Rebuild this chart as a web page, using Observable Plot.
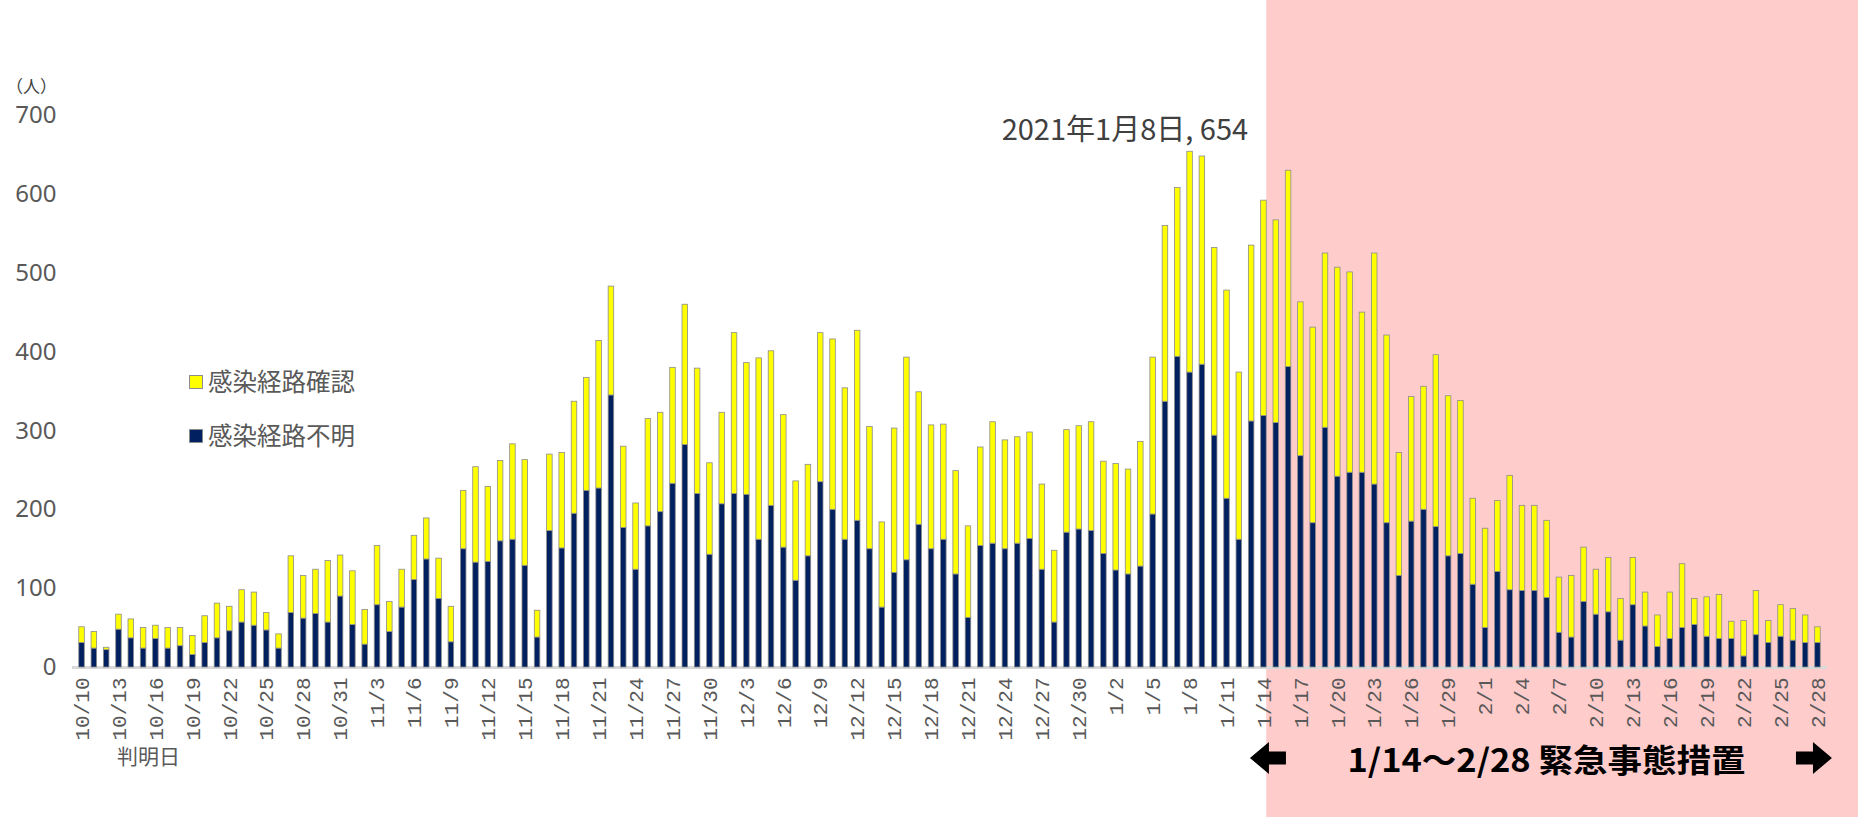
<!DOCTYPE html>
<html>
<head>
<meta charset="utf-8">
<script src="https://cdn.jsdelivr.net/npm/d3@7"></script>
<script src="https://cdn.jsdelivr.net/npm/@observablehq/plot@0.6"></script>
<style>
html, body { margin: 0; padding: 0; background: #fff; }
#wrap { position: relative; width: 1858px; height: 817px; overflow: hidden; font-family: "Noto Sans CJK JP", "Noto Sans", sans-serif; }
#wrap svg { position: absolute; left: 0; top: 0; }
.lbl { position: absolute; white-space: nowrap; line-height: 1; }
.sw { position: absolute; width: 14px; height: 14px; box-sizing: border-box; border: 1px solid #8c8c8c; }
</style>
</head>
<body>
<div id="wrap"></div>
<script>
// ---- Data ----
const dates = [
  "10/10","10/11","10/12","10/13","10/14","10/15","10/16","10/17","10/18","10/19","10/20",
  "10/21","10/22","10/23","10/24","10/25","10/26","10/27","10/28","10/29","10/30","10/31",
  "11/1","11/2","11/3","11/4","11/5","11/6","11/7","11/8","11/9","11/10",
  "11/11","11/12","11/13","11/14","11/15","11/16","11/17","11/18","11/19","11/20",
  "11/21","11/22","11/23","11/24","11/25","11/26","11/27","11/28","11/29","11/30",
  "12/1","12/2","12/3","12/4","12/5","12/6","12/7","12/8","12/9","12/10",
  "12/11","12/12","12/13","12/14","12/15","12/16","12/17","12/18","12/19","12/20",
  "12/21","12/22","12/23","12/24","12/25","12/26","12/27","12/28","12/29","12/30","12/31",
  "1/1","1/2","1/3","1/4","1/5","1/6","1/7","1/8","1/9","1/10",
  "1/11","1/12","1/13","1/14","1/15","1/16","1/17","1/18","1/19","1/20",
  "1/21","1/22","1/23","1/24","1/25","1/26","1/27","1/28","1/29","1/30","1/31",
  "2/1","2/2","2/3","2/4","2/5","2/6","2/7","2/8","2/9","2/10",
  "2/11","2/12","2/13","2/14","2/15","2/16","2/17","2/18","2/19","2/20",
  "2/21","2/22","2/23","2/24","2/25","2/26","2/27","2/28"
];

// 感染経路不明 (navy, bottom)
const unknownCases = [
  31,24,22,48,37,24,36,24,27,16,
  31,37,46,57,53,47,24,69,62,68,
  57,90,54,29,79,45,76,111,137,87,
  32,150,133,134,160,162,129,38,173,151,
  195,224,227,345,177,124,179,197,233,282,
  220,143,207,220,219,162,205,152,110,141,
  235,200,162,186,150,76,120,136,181,150,
  162,118,63,154,157,150,157,163,124,57,
  171,175,173,144,123,118,128,194,337,394,
  374,384,294,214,162,312,319,310,381,268,
  183,304,242,247,247,232,183,116,185,200,
  178,141,144,105,50,121,98,97,97,88,
  44,38,83,67,70,34,79,52,26,36,
  50,54,39,36,36,14,41,31,39,34,
  31,31
];

// 感染経路確認 (yellow, top)
const confirmedCases = [
  20,21,3,19,24,26,17,26,23,24,
  34,44,31,41,42,22,18,72,54,56,
  78,52,68,44,75,38,48,56,52,51,
  45,74,121,95,102,121,134,34,97,121,
  142,143,187,138,103,84,136,126,147,178,
  159,116,116,204,167,230,196,168,126,116,
  189,216,192,241,155,108,183,257,168,157,
  146,131,116,125,154,138,135,135,108,91,
  130,131,138,117,135,133,158,199,223,214,
  280,264,238,264,212,223,273,257,249,195,
  248,221,265,254,203,293,238,156,158,156,
  218,203,194,109,126,90,145,108,108,98,
  70,78,69,57,69,53,60,43,40,59,
  81,33,50,56,22,45,56,28,40,40,
  35,20
];

const tickDates = [
  "10/10","10/13","10/16","10/19","10/22","10/25","10/28","10/31",
  "11/3","11/6","11/9","11/12","11/15","11/18","11/21","11/24","11/27","11/30",
  "12/3","12/6","12/9","12/12","12/15","12/18","12/21","12/24","12/27","12/30",
  "1/2","1/5","1/8","1/11","1/14","1/17","1/20","1/23","1/26","1/29",
  "2/1","2/4","2/7","2/10","2/13","2/16","2/19","2/22","2/25","2/28"
];
const yTicks = [0, 100, 200, 300, 400, 500, 600, 700];

const seriesNames = ["感染経路不明", "感染経路確認"];
const seriesColors = ["#002060", "#ffff00"];
const legendOrder = ["感染経路確認", "感染経路不明"];
const periodStart = "1/14";
const periodEnd = "2/28";
const periodLabel = "1/14～2/28 緊急事態措置";
const unitLabel = "（人）";
const xTitle = "判明日";

// ---- Build tables ----
const rows = [];
dates.forEach((d, i) => rows.push({date: d, series: seriesNames[0], value: unknownCases[i]}));
dates.forEach((d, i) => rows.push({date: d, series: seriesNames[1], value: confirmedCases[i]}));
const totals = dates.map((d, i) => ({date: d, total: unknownCases[i] + confirmedCases[i]}));
const peak = totals.reduce((a, b) => (b.total > a.total ? b : a));
const peakText = (d) => {
  const [m, day] = d.date.split("/");
  return `2021年${m}月${day}日, ${d.total}`;
};

// Emergency period shading, arrows and label (positions from the x scale)
function emergencyMark(index, scales, values, dims) {
  const x = scales.x;
  const bw = typeof x.bandwidth === "function" ? x.bandwidth() : (x.bandwidth || 0);
  const cStart = x(periodStart) + bw / 2;
  const cEnd = x(periodEnd) + bw / 2;
  const x0 = x(periodStart) + bw;
  const g = d3.create("svg:g");
  g.append("rect")
    .attr("x", x0).attr("y", 0)
    .attr("width", dims.width - x0).attr("height", dims.height)
    .attr("fill", "#ffcccc");
  const cy = scales.y(0) + 91;
  const arrow = (cx, dir) => {
    const w = 18, head = 1, hh = 16, sh = 6.5;
    const p = [[-w, 0], [head, -hh], [head, -sh], [w, -sh], [w, sh], [head, sh], [head, hh]];
    return p.map(([a, b]) => `${cx + dir * a},${cy + b}`).join(" ");
  };
  g.append("polygon").attr("points", arrow(cStart + 4.5, 1)).attr("fill", "#000");
  g.append("polygon").attr("points", arrow(cEnd - 3.5, -1)).attr("fill", "#000");
  g.append("text")
    .attr("x", (cStart + cEnd) / 2 + 6).attr("y", cy)
    .attr("text-anchor", "middle").attr("dominant-baseline", "central")
    .attr("font-family", "'Noto Sans CJK JP', sans-serif")
    .attr("font-weight", 700).attr("font-size", 32)
    .attr("textLength", 398).attr("lengthAdjust", "spacingAndGlyphs")
    .attr("fill", "#000")
    .text(periodLabel);
  return g.node();
}

const plot = Plot.plot({
  width: 1858,
  height: 817,
  marginLeft: 72,
  marginRight: 31,
  marginTop: 115,
  marginBottom: 150,
  style: {background: "transparent", fontFamily: "'Noto Sans CJK JP', 'Noto Sans', sans-serif", overflow: "visible"},
  x: {type: "band", domain: dates, padding: 0.55, label: null},
  y: {domain: [0, 700], label: null},
  color: {domain: seriesNames, range: seriesColors},
  marks: [
    emergencyMark,
    Plot.ruleY([0], {stroke: "#d9d9d9", strokeWidth: 3}),
    Plot.barY(rows, {
      x: "date", y: "value", fill: "series", z: "series", order: seriesNames,
      stroke: "#8c8c8c", strokeWidth: 0.8
    }),
    Plot.axisY({ticks: yTicks, tickSize: 0, tickPadding: 16, fontSize: 24, color: "#595959", label: null, fontFamily: "'Noto Sans', sans-serif"}),
    Plot.axisX({ticks: tickDates, tickRotate: -90, tickSize: 0, tickPadding: 10, fontSize: 21, color: "#595959", label: null, fontFamily: "'Liberation Mono', monospace"}),
    Plot.text([peak], {
      x: "date", y: "total", text: peakText,
      textAnchor: "end", dx: 58, dy: -21, fontSize: 29, fill: "#404040",
      fontFamily: "'Noto Sans CJK JP', sans-serif"
    })
  ]
});

const wrap = document.getElementById("wrap");
wrap.appendChild(plot);

// Overlay texts
function addLabel(text, css) {
  const el = document.createElement("div");
  el.className = "lbl";
  el.textContent = text;
  Object.assign(el.style, css);
  wrap.appendChild(el);
  return el;
}
addLabel(unitLabel, {left: "6px", top: "77px", fontSize: "17px", color: "#404040"});
addLabel(xTitle, {left: "117px", top: "745px", fontSize: "21px", color: "#595959"});

// Legend
const legendY = {"感染経路確認": 382, "感染経路不明": 436};
legendOrder.forEach((name) => {
  const cy = legendY[name];
  const sw = document.createElement("div");
  sw.className = "sw";
  Object.assign(sw.style, {left: "189px", top: (cy - 7) + "px", background: seriesColors[seriesNames.indexOf(name)]});
  wrap.appendChild(sw);
  addLabel(name, {left: "208px", top: (cy - 13) + "px", fontSize: "24.5px", color: "#595959"});
});
</script>
</body>
</html>
